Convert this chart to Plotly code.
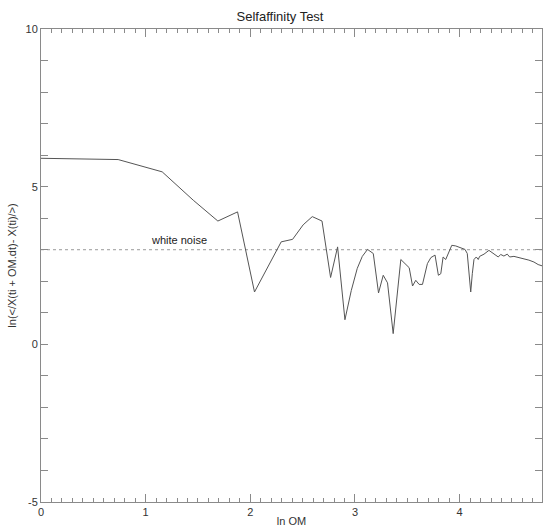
import plotly.graph_objects as go

# ln(OM) values and ln(<|X(ti+OM.dt)-X(ti)|>)
ln_om = [0.0, 0.737, 1.158, 1.455, 1.690, 1.878, 2.040, 2.295, 2.404, 2.505,
         2.592, 2.685, 2.767, 2.834, 2.904, 2.965, 3.022, 3.07, 3.12, 3.175,
         3.225, 3.27, 3.311, 3.365, 3.438, 3.518, 3.55, 3.581, 3.613, 3.645,
         3.692, 3.725, 3.765, 3.797, 3.82, 3.842, 3.867, 3.925, 3.963, 4.01,
         4.051, 4.073, 4.106, 4.121, 4.137, 4.159, 4.178, 4.191, 4.233, 4.28,
         4.328, 4.369, 4.392, 4.423, 4.455, 4.478, 4.519, 4.566, 4.614, 4.662,
         4.71, 4.75, 4.787]
ln_diff = [5.90, 5.86, 5.47, 4.57, 3.91, 4.20, 1.66, 3.25, 3.33, 3.79,
           4.05, 3.91, 2.12, 3.09, 0.78, 1.71, 2.41, 2.79, 3.01, 2.88,
           1.63, 2.19, 1.95, 0.34, 2.69, 2.43, 1.85, 2.03, 1.90, 1.90,
           2.56, 2.75, 2.83, 2.19, 2.24, 2.77, 2.69, 3.14, 3.12, 3.07,
           3.01, 2.88, 1.66, 2.24, 2.69, 2.77, 2.69, 2.79, 2.86, 2.98,
           2.88, 2.77, 2.85, 2.80, 2.86, 2.77, 2.79, 2.75, 2.72, 2.67,
           2.61, 2.53, 2.49]
assert len(ln_om) == len(ln_diff)

white_noise_level = 3.0
x_range = [0, 4.787]
y_range = [-5, 10]
x_ticks = [0, 1, 2, 3, 4]
y_ticks = [-5, 0, 5, 10]

FONT = "Liberation Sans, Arial, Helvetica, sans-serif"
AXIS_COLOR = "#8a8a8a"
TEXT_COLOR = "#333333"

fig = go.Figure()
fig.add_trace(go.Scatter(
    x=[x_range[0], x_range[1]], y=[white_noise_level, white_noise_level],
    mode="lines", line=dict(color="#999999", width=1, dash="dot"),
    hoverinfo="skip", showlegend=False,
))
fig.add_trace(go.Scatter(
    x=ln_om, y=ln_diff, mode="lines",
    line=dict(color="#555555", width=1),
    showlegend=False,
))

fig.add_annotation(
    x=1.316, y=white_noise_level, yshift=10, text="white noise",
    showarrow=False, font=dict(family=FONT, size=11, color="#222222"),
    xref="x", yref="y",
)

fig.update_layout(
    width=543, height=532,
    margin=dict(l=41, r=1, t=29, b=30, autoexpand=False),
    paper_bgcolor="white", plot_bgcolor="white",
    font=dict(family=FONT, size=11, color=TEXT_COLOR),
    title=dict(text="Selfaffinity Test", x=280 / 543, xref="container", xanchor="center",
               y=1 - 16 / 532, yref="container", yanchor="middle",
               font=dict(family=FONT, size=13, color="#222222")),
    xaxis=dict(
        range=x_range, tickvals=x_ticks, ticktext=[str(v) for v in x_ticks],
        ticks="inside", ticklen=8, tickcolor=AXIS_COLOR, tickwidth=1,
        minor=dict(ticks="inside", dtick=0.1, ticklen=4, tickcolor=AXIS_COLOR, tickwidth=1),
        showline=True, linecolor=AXIS_COLOR, linewidth=1, mirror="ticks",
        showgrid=False, zeroline=False, automargin=False,
        title=dict(text="ln OM", standoff=0, font=dict(family=FONT, size=11, color=TEXT_COLOR)),
        tickfont=dict(family=FONT, size=11, color=TEXT_COLOR),
    ),
    yaxis=dict(
        range=y_range, tickvals=y_ticks, ticktext=[str(v) for v in y_ticks],
        ticks="inside", ticklen=7, tickcolor=AXIS_COLOR, tickwidth=1,
        minor=dict(ticks="inside", dtick=1, ticklen=7, tickcolor=AXIS_COLOR, tickwidth=1),
        showline=True, linecolor=AXIS_COLOR, linewidth=1, mirror="ticks",
        showgrid=False, zeroline=False, automargin=False,
        title=dict(text="ln(&lt;/X(ti + OM.dt)- X(ti)/&gt;)", standoff=6,
                   font=dict(family=FONT, size=11, color=TEXT_COLOR)),
        tickfont=dict(family=FONT, size=11, color=TEXT_COLOR),
    ),
)

fig.write_html(
    "out.html",
    config={"displayModeBar": False},
    post_script="document.body.style.margin='0';document.body.style.overflow='hidden';",
)
